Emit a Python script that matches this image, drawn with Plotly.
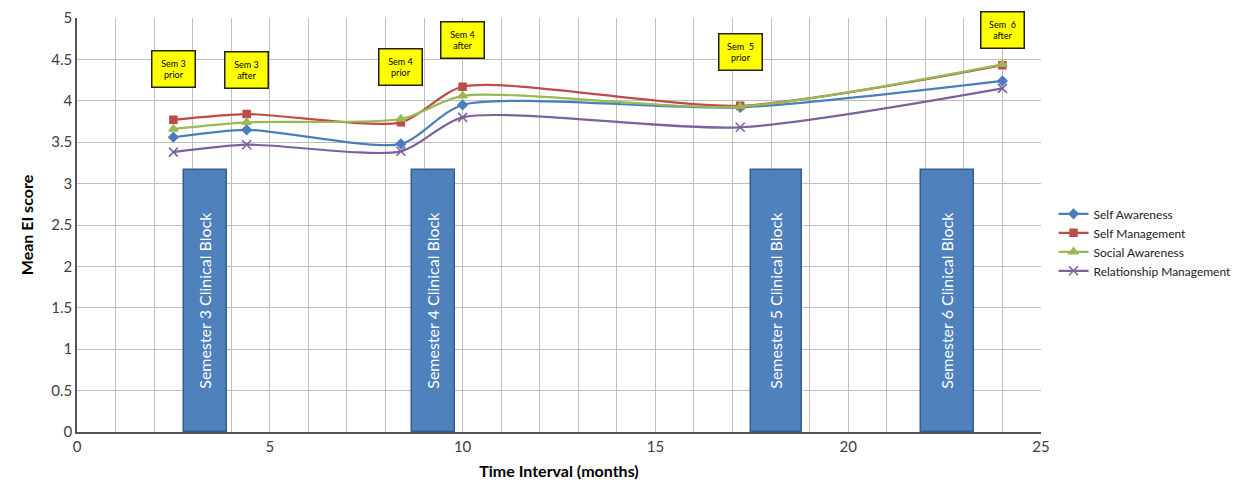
import plotly.graph_objects as go

# Assessment time points (months from start) and their labels
time_months = [2.5, 4.4, 8.4, 10.0, 17.2, 24.0]
time_labels = ["Sem 3<br>prior", "Sem 3<br>after", "Sem 4<br>prior",
               "Sem 4<br>after", "Sem  5<br>prior", "Sem  6<br>after"]
label_heights = [4.38, 4.37, 4.41, 4.74, 4.59, 4.85]

# Mean EI score per domain
self_awareness = [3.56, 3.65, 3.48, 3.95, 3.92, 4.24]
self_management = [3.77, 3.84, 3.74, 4.17, 3.94, 4.43]
social_awareness = [3.66, 3.74, 3.78, 4.06, 3.93, 4.44]
relationship_management = [3.38, 3.47, 3.39, 3.80, 3.68, 4.15]

# Clinical blocks (start / end month) and their heights
block_names = ["Semester 3 Clinical Block", "Semester 4 Clinical Block",
               "Semester 5 Clinical Block", "Semester 6 Clinical Block"]
block_start = [2.78, 8.70, 17.47, 21.88]
block_end = [3.90, 9.80, 18.79, 23.25]
block_height = [3.17, 3.16, 3.16, 3.16]

FONT = "Lato"

fig = go.Figure()

# Clinical blocks as bars spanning their time window
fig.add_trace(go.Bar(
    x=[(s + e) / 2 for s, e in zip(block_start, block_end)],
    y=block_height,
    width=[e - s for s, e in zip(block_start, block_end)],
    text=block_names,
    textposition="inside",
    insidetextanchor="middle",
    textangle=-90,
    constraintext="none",
    textfont=dict(family=FONT, size=16, color="white"),
    marker=dict(color="#4F81BD", line=dict(color="#385D8A", width=1.5)),
    showlegend=False,
    hoverinfo="skip",
))

series = [
    ("Self Awareness", self_awareness, "#4A7EBB", "diamond", 7),
    ("Self Management", self_management, "#BE4B48", "square", 7),
    ("Social Awareness", social_awareness, "#98B954", "triangle-up", 8),
    ("Relationship Management", relationship_management, "#7D60A0", "x-thin", 9),
]
for name, vals, color, symbol, size in series:
    fig.add_trace(go.Scatter(
        x=time_months, y=vals, name=name,
        mode="lines+markers",
        line=dict(color=color, width=2.2, shape="spline", smoothing=0.7),
        marker=dict(symbol=symbol, size=size, color=color,
                    line=dict(color=color, width=1.5)),
    ))

# Yellow time-point labels
for xv, yv, txt in zip(time_months, label_heights, time_labels):
    fig.add_annotation(
        x=xv, y=yv, text=txt, showarrow=False,
        font=dict(family=FONT, size=9, color="black"),
        bgcolor="#FFFF00", bordercolor="#222222", borderwidth=1.5,
        borderpad=2, width=38, height=31, align="center", valign="middle",
    )

fig.update_layout(
    width=1243, height=494,
    margin=dict(l=77, r=202, t=18, b=62, autoexpand=False),
    plot_bgcolor="white", paper_bgcolor="white",
    font=dict(family=FONT),
    bargap=0,
    legend=dict(
        x=1.013, y=0.562, xanchor="left", yanchor="top",
        font=dict(family=FONT, size=12, color="#222222"),
        tracegroupgap=0, itemwidth=30,
    ),
    xaxis=dict(
        range=[0, 25], dtick=5, tick0=0,
        showgrid=True, gridcolor="#BEBEBE", gridwidth=1,
        minor=dict(dtick=1, showgrid=True, gridcolor="#BEBEBE", gridwidth=1),
        showline=True, linecolor="#555555", linewidth=1.5,
        zeroline=False, ticks="",
        tickfont=dict(family=FONT, size=15, color="#404040"),
        title=dict(text="<b>Time Interval (months)</b>",
                   font=dict(family=FONT, size=16, color="black"), standoff=12),
    ),
    yaxis=dict(
        range=[0, 5], dtick=0.5,
        showgrid=True, gridcolor="#BEBEBE", gridwidth=1,
        showline=True, linecolor="#555555", linewidth=1.5,
        zeroline=False, ticks="",
        tickfont=dict(family=FONT, size=15, color="#404040"),
        title=dict(text="<b>Mean EI score</b>",
                   font=dict(family=FONT, size=16, color="black"), standoff=14),
    ),
)

fig.write_html("out.html")
